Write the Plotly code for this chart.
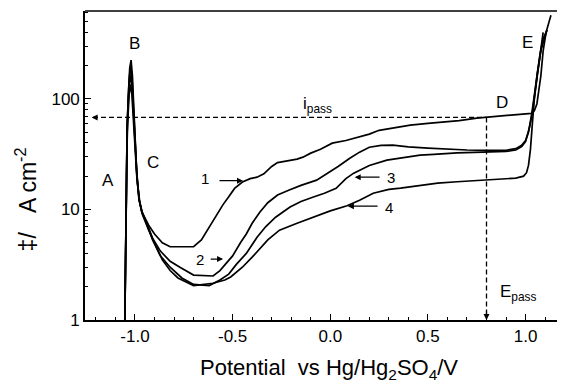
import math
import plotly.graph_objects as go

# ---------------- data ----------------
V1 = [-1.052, -1.048, -1.042, -1.035, -1.027, -1.020, -1.013, -1.007, -1.000, -0.993, -0.985,
      -0.975, -0.965, -0.950, -0.930, -0.900, -0.860, -0.820, -0.760, -0.700, -0.660, -0.630,
      -0.600, -0.575, -0.550, -0.520, -0.490, -0.450, -0.410, -0.375, -0.340, -0.300, -0.270,
      -0.220, -0.170, -0.140, -0.100, -0.050, 0.010, 0.080, 0.150, 0.200, 0.250, 0.300, 0.350,
      0.410, 0.500, 0.580, 0.660, 0.750, 0.850, 0.920, 0.980, 1.030, 1.045, 1.058, 1.068,
      1.078, 1.090, 1.105, 1.130]
I1 = [1.0, 5, 30, 100, 190, 224, 160, 90, 45, 25, 16,
      11.5, 9.5, 8.5, 7.2, 6.0, 5.0, 4.6, 4.6, 4.6, 5.3, 6.5,
      8.0, 9.5, 11, 13, 15.5, 17.7, 19, 19.6, 21, 24.5, 26.5,
      27.5, 28.5, 29.7, 32.3, 35, 39.8, 42, 45, 48, 52, 54, 56,
      58, 60, 61.6, 63.5, 67, 69.5, 71.3, 72.5, 74, 78, 90, 120,
      160, 270, 400, 570]

V2 = [-1.052, -1.047, -1.040, -1.030, -1.022, -1.015, -1.008, -1.000, -0.990, -0.980, -0.965,
      -0.940, -0.910, -0.870, -0.820, -0.770, -0.700, -0.600, -0.565, -0.530, -0.500, -0.460,
      -0.430, -0.400, -0.360, -0.320, -0.270, -0.210, -0.150, -0.070, 0.000, 0.040, 0.100,
      0.150, 0.200, 0.260, 0.320, 0.400, 0.500, 0.600, 0.700, 0.800, 0.900, 0.950, 0.980,
      1.000, 1.015, 1.030, 1.045, 1.060, 1.075, 1.090, 1.110]
I2 = [1.0, 10, 60, 150, 200, 150, 80, 40, 20, 12.5, 9.5,
      7.5, 5.5, 4.2, 3.4, 3.0, 2.55, 2.5, 2.8, 3.3, 3.8, 5.0,
      6.0, 7.5, 9.5, 11.5, 13.5, 15, 16.5, 18.4, 22, 24.5, 29,
      33, 36.5, 38, 38.2, 36.8, 35.8, 35, 34.5, 34.2, 34.3, 35.5, 38,
      42, 50, 70, 110, 170, 260, 350, 420]

V3 = [-1.052, -1.046, -1.040, -1.030, -1.022, -1.015, -1.007, -1.000, -0.990, -0.978, -0.962,
      -0.940, -0.910, -0.870, -0.820, -0.760, -0.700, -0.620, -0.565, -0.520, -0.480, -0.430,
      -0.375, -0.330, -0.280, -0.206, -0.150, -0.090, -0.030, 0.030, 0.080, 0.120, 0.200,
      0.290, 0.360, 0.460, 0.530, 0.650, 0.780, 0.900, 0.950, 0.980, 1.000, 1.020, 1.035,
      1.050, 1.065, 1.080, 1.090]
I3 = [1.0, 15, 60, 130, 165, 130, 70, 38, 20, 12, 9.3,
      7.5, 5.3, 3.8, 3.0, 2.4, 2.1, 2.05, 2.3, 2.6, 3.2, 4.0,
      5.6, 7.0, 8.5, 10.5, 11.8, 12.9, 14, 15.5, 19, 21.3, 25,
      27.9, 29, 31, 31.5, 32.5, 33, 33.5, 34.5, 37, 41, 55, 75,
      120, 190, 290, 400]

V4 = [-1.052, -1.046, -1.040, -1.030, -1.023, -1.016, -1.008, -1.000, -0.990, -0.978, -0.962,
      -0.930, -0.900, -0.860, -0.820, -0.780, -0.700, -0.600, -0.540, -0.510, -0.450, -0.400,
      -0.320, -0.260, -0.170, -0.090, 0.000, 0.086, 0.150, 0.220, 0.300, 0.360, 0.460,
      0.550, 0.650, 0.780, 0.880, 0.950, 0.990, 1.005, 1.015, 1.025, 1.035, 1.045, 1.060,
      1.080, 1.110]
I4 = [1.0, 12, 50, 110, 135, 110, 65, 35, 19, 12, 9,
      6.5, 5.0, 3.5, 2.8, 2.4, 2.05, 2.15, 2.3, 2.45, 3.0, 3.7,
      5.3, 6.5, 7.5, 8.5, 9.7, 10.8, 12.1, 14, 15.2, 15.6, 16.6,
      17.3, 17.8, 18.4, 18.8, 19.2, 20, 21.5, 25, 35, 60, 100, 170,
      280, 420]

I_PASS = 68.0     # passive current density (dashed line)
E_PASS = 0.80     # passivation potential (dashed line)

X_TICKS = [-1.0, -0.5, 0.0, 0.5, 1.0]
X_TICK_TEXT = ["-1.0", "-0.5", "0.0", "0.5", "1.0"]
Y_TICKS = [1, 10, 100]
Y_TICK_TEXT = ["1", "10", "100"]

FONT = "Liberation Sans, Arial, Helvetica, sans-serif"
L = math.log10

fig = go.Figure()
for V, I in [(V1, I1), (V2, I2), (V3, I3), (V4, I4)]:
    fig.add_trace(go.Scatter(x=V, y=I, mode="lines",
                             line=dict(color="black", width=1.7),
                             showlegend=False, hoverinfo="skip"))

# dashed guide lines
fig.add_trace(go.Scatter(x=[-1.215, E_PASS], y=[I_PASS, I_PASS], mode="lines",
                         line=dict(color="black", width=1.3, dash="5px,3px"),
                         showlegend=False, hoverinfo="skip"))
fig.add_trace(go.Scatter(x=[E_PASS, E_PASS], y=[I_PASS, 1.03], mode="lines",
                         line=dict(color="black", width=1.3, dash="5px,3px"),
                         showlegend=False, hoverinfo="skip"))

ann = []


def label(x, y, text, size=17, xanchor="center"):
    ann.append(dict(x=x, y=L(y), xref="x", yref="y", text=text, showarrow=False,
                    font=dict(family=FONT, size=size, color="black"),
                    xanchor=xanchor, yanchor="middle"))


def arrow(x0, x1, y0, y1, head=2, size=1.0, width=1.2):
    ann.append(dict(x=x1, y=L(y1), ax=x0, ay=L(y0), xref="x", yref="y",
                    axref="x", ayref="y", text="", showarrow=True,
                    arrowhead=head, arrowsize=size, arrowwidth=width,
                    arrowcolor="black"))


label(-1.0, 318, "B")
label(-1.138, 18.4, "A")
label(-0.908, 26.8, "C")
label(0.879, 93, "D")
label(1.012, 325, "E")
label(-0.063, 88, "i<sub>pass</sub>", size=17)
label(0.859, 1.75, "E<sub>pass</sub>", size=17, xanchor="left")

label(-0.642, 19.2, "1", size=15)
arrow(-0.575, -0.447, 18.2, 18.2)
label(-0.667, 3.56, "2", size=15)
arrow(-0.62, -0.549, 3.56, 3.56)
label(0.31, 19.6, "3", size=15)
arrow(0.26, 0.125, 19.6, 19.6)
label(0.30, 10.5, "4", size=15)
arrow(0.25, 0.09, 10.7, 10.7)

# arrowheads of dashed lines
arrow(-1.19, -1.222, I_PASS, I_PASS, head=2, size=1.0, width=1.2)
arrow(E_PASS, E_PASS, 1.25, 1.0, head=2, size=1.0, width=1.2)

# axis titles
ann.append(dict(x=0.508, y=-0.158, xref="paper", yref="paper",
                text="Potential  vs Hg/Hg<sub>2</sub>SO<sub>4</sub>/V",
                showarrow=False, font=dict(family=FONT, size=22, color="black"),
                xanchor="center", yanchor="middle"))
ann.append(dict(x=-0.121, y=0.39, xref="paper", yref="paper",
                text="\u2021/\u00a0\u00a0\u00a0A cm<sup>-2</sup>", textangle=-90,
                showarrow=False, font=dict(family=FONT, size=23, color="black"),
                xanchor="center", yanchor="middle"))

minor_y = [m * 10 ** d for d in range(0, 3) for m in range(2, 10) if m * 10 ** d < 620]

# the page adds an 8px body margin, so margins are offset by 8px
fig.update_layout(
    width=565, height=385,
    margin=dict(l=77, r=8, t=3, b=73),
    paper_bgcolor="white", plot_bgcolor="white",
    showlegend=False,
    annotations=ann,
    shapes=[dict(type="line", xref="paper", yref="paper", x0=0, x1=1, y0=1, y1=1,
                 line=dict(color="black", width=1.5))],
    xaxis=dict(range=[-1.256, 1.202], tickvals=X_TICKS, ticktext=X_TICK_TEXT,
               ticks="inside", ticklen=6, tickwidth=1.3, tickcolor="black",
               minor=dict(dtick=0.1, tick0=0, ticks="inside", ticklen=3,
                          tickwidth=1.1, tickcolor="black", showgrid=False),
               showline=True, linecolor="black", linewidth=1.6,
               showgrid=False, zeroline=False,
               tickfont=dict(family=FONT, size=17, color="black")),
    yaxis=dict(type="log", range=[0, 2.795], tickvals=Y_TICKS, ticktext=Y_TICK_TEXT,
               ticks="inside", ticklen=6, tickwidth=1.3, tickcolor="black",
               minor=dict(tickvals=minor_y, ticks="inside", ticklen=3,
                          tickwidth=1.1, tickcolor="black", showgrid=False),
               showline=True, linecolor="black", linewidth=1.6,
               showgrid=False, zeroline=False,
               tickfont=dict(family=FONT, size=17, color="black")),
)

fig.write_html("out.html")
